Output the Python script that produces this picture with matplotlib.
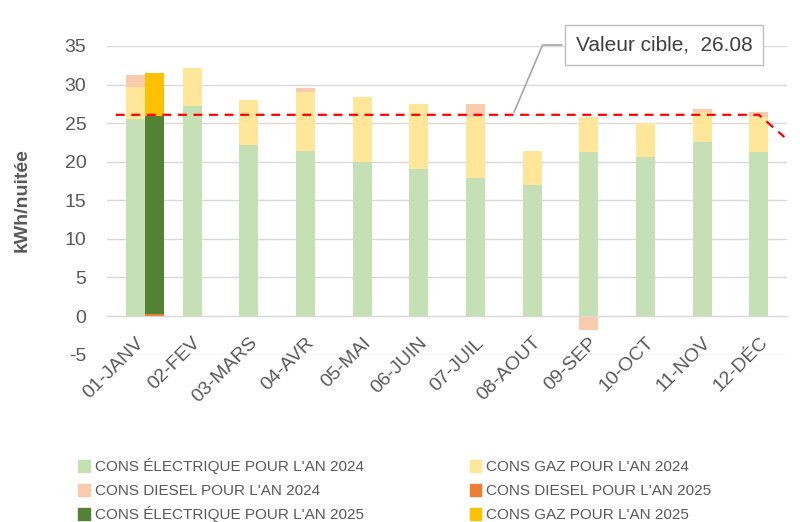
import numpy as np
import matplotlib
matplotlib.use('Agg')
import matplotlib.pyplot as plt
from matplotlib.patches import Patch, Rectangle
from matplotlib.legend_handler import HandlerPatch

plt.rcParams['font.family'] = ['Liberation Sans', 'DejaVu Sans']
plt.rcParams['axes.unicode_minus'] = False

# data
months = ['01-JANV', '02-FEV', '03-MARS', '04-AVR', '05-MAI', '06-JUIN',
          '07-JUIL', '08-AOUT', '09-SEP', '10-OCT', '11-NOV', '12-DÉC']
elec_2024 = [25.5, 27.2, 22.2, 21.4, 19.9, 19.0, 17.9, 17.0, 21.3, 20.6, 22.5, 21.3]
gaz_2024 = [4.2, 4.9, 5.8, 7.7, 8.45, 8.5, 7.9, 4.4, 4.5, 4.46, 4.0, 4.5]
diesel_2024 = [1.5, 0, 0, 0.4, 0, 0, 1.7, 0, -1.8, 0, 0.3, 0.65]
diesel_2025 = [0.3]
elec_2025 = [25.6]
gaz_2025 = [5.6]
target = 26.08
target_x = [-0.35, 11.0, 11.45]
target_y = [26.08, 26.08, 23.2]

c_elec24 = '#C5E0B4'
c_gaz24 = '#FFE699'
c_die24 = '#F8CBAD'
c_die25 = '#ED7D31'
c_elec25 = '#548235'
c_gaz25 = '#FFC000'
txt = '#595959'

fig = plt.figure(figsize=(8, 5.22), dpi=100)
ax = fig.add_axes([0.134, 0.3207, 0.85, 0.5912])

x = np.arange(len(months))
w = 0.335
e24 = np.array(elec_2024)
g24 = np.array(gaz_2024)
d24 = np.array(diesel_2024)
ax.bar(x, e24, w, color=c_elec24, zorder=2)
ax.bar(x, g24, w, bottom=e24, color=c_gaz24, zorder=2)
# negative values stack downward from zero, like Excel does
d_bottom = np.where(d24 >= 0, e24 + g24, 0)
ax.bar(x, d24, w, bottom=d_bottom, color=c_die24, zorder=2)

x25 = np.arange(len(elec_2025)) + w
d25 = np.array(diesel_2025)
e25 = np.array(elec_2025)
g25 = np.array(gaz_2025)
ax.bar(x25, d25, w, color=c_die25, zorder=2)
ax.bar(x25, e25, w, bottom=d25, color=c_elec25, zorder=2)
ax.bar(x25, g25, w, bottom=d25 + e25, color=c_gaz25, zorder=2)

ax.plot(target_x, target_y, color='#FF0000', linestyle=(0, (4, 3)), linewidth=1.6, zorder=3)

ax.annotate('Valeur cible,  26.08', xy=(6.66, target), xycoords='data',
            xytext=(0.83, 0.9138), textcoords='figure fraction',
            ha='center', va='center', fontsize=15, color='#404040',
            bbox=dict(boxstyle='square,pad=0.5', fc='white', ec='#BFBFBF', lw=1),
            arrowprops=dict(arrowstyle='-', color='#A6A6A6', lw=1.2,
                            relpos=(0, 0.5),
                            connectionstyle='angle,angleA=180,angleB=67,rad=0'),
            zorder=4)

ax.set_xlim(-0.5, 11.5)
ax.set_ylim(-5, 35)
ax.set_yticks(range(-5, 36, 5))
ax.yaxis.grid(True, color='#D9D9D9', linewidth=1, zorder=0)
ax.set_axisbelow(True)
for s in ['top', 'right', 'left']:
    ax.spines[s].set_visible(False)
ax.spines['bottom'].set_position(('data', 0))
ax.spines['bottom'].set_color('#D9D9D9')

ax.set_xticks(x)
ax.set_xticklabels(months, rotation=45, ha='right', rotation_mode='anchor')
ax.tick_params(axis='x', length=0, pad=13, labelsize=14, labelcolor=txt)
ax.tick_params(axis='y', length=0, pad=15, labelsize=14, labelcolor=txt)

ax.set_ylabel('kWh/nuitée', fontsize=14, fontweight='bold', color=txt)
ax.yaxis.set_label_coords(-0.113, 0.5)


# tall handle box (so every row has the same height) with a small square inside
def small_square(legend, orig_handle, xdescent, ydescent, width, height, fontsize):
    s = 0.75 * fontsize
    return Rectangle((-xdescent, -ydescent + (height - s) / 2), s, s)


# column-major order so the rows read like the reference legend
handles = [Patch(color=c_elec24), Patch(color=c_die24), Patch(color=c_elec25),
           Patch(color=c_gaz24), Patch(color=c_die25), Patch(color=c_gaz25)]
labels = ["CONS ÉLECTRIQUE POUR L'AN 2024", "CONS DIESEL POUR L'AN 2024",
          "CONS ÉLECTRIQUE POUR L'AN 2025", "CONS GAZ POUR L'AN 2024",
          "CONS DIESEL POUR L'AN 2025", "CONS GAZ POUR L'AN 2025"]
leg = fig.legend(handles, labels, loc='upper left', bbox_to_anchor=(0.098, 0.124),
                 ncol=2, frameon=False, fontsize=11, handlelength=0.75, handleheight=1.35,
                 handletextpad=0.35, labelspacing=0.45, columnspacing=6.9,
                 borderaxespad=0, borderpad=0,
                 handler_map={Patch: HandlerPatch(patch_func=small_square)})
for t in leg.get_texts():
    t.set_color(txt)

fig.savefig('out.png', dpi=100)
